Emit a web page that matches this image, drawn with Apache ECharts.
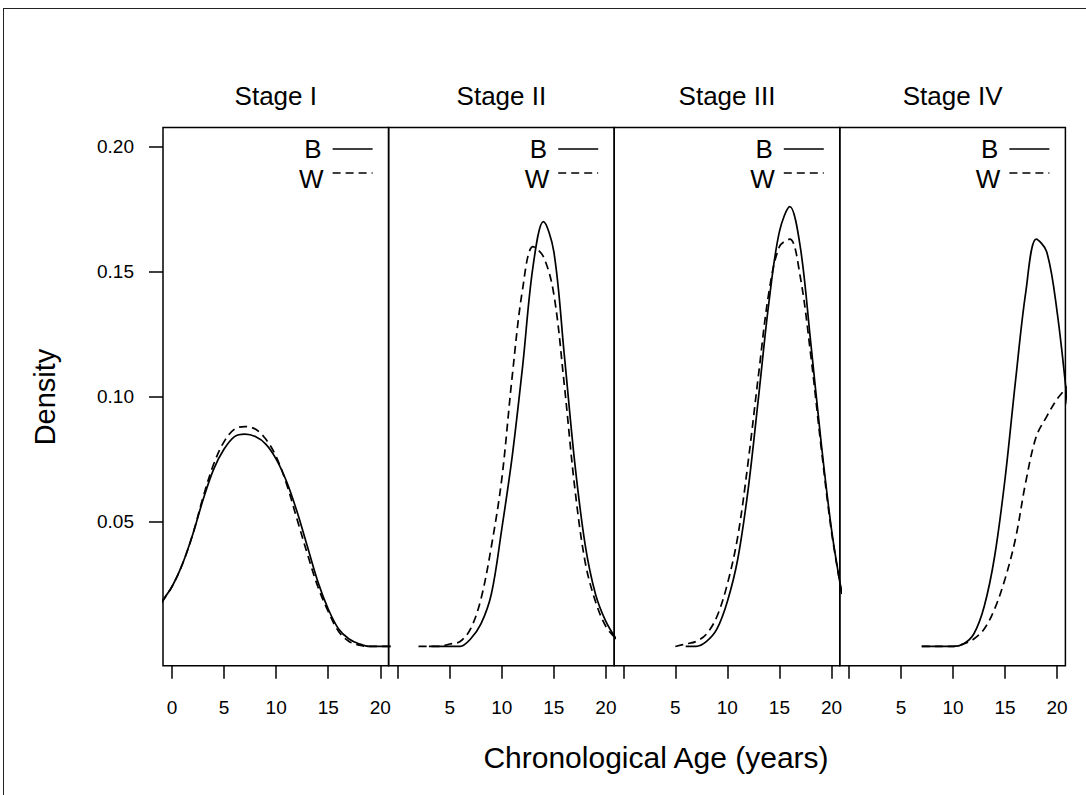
<!DOCTYPE html>
<html>
<head>
<meta charset="utf-8">
<script src="https://cdn.jsdelivr.net/npm/echarts@6/dist/echarts.min.js"></script>
<style>
html,body{margin:0;padding:0;background:#fff;}
#frame{position:absolute;left:3px;top:8px;width:1100px;height:800px;border-top:1.5px solid #222;border-left:1.5px solid #222;}
#chart{position:absolute;left:0;top:0;width:1086px;height:795px;}
</style>
</head>
<body>
<div id="frame"></div>
<div id="chart"></div>
<script>
// ---- data ----
const stageNames = ['Stage I', 'Stage II', 'Stage III', 'Stage IV'];
const groupNames = ['B', 'W'];
const ages = [-1, 0, 1, 2, 3, 4, 5, 6, 7, 8, 9, 10, 11, 12, 13, 14, 15, 16, 17, 18, 19, 20, 21];
const xTickValues = [0, 5, 10, 15, 20];
const xLabelsFirst = [0, 5, 10, 15, 20];
const xLabelsOther = [5, 10, 15, 20];
const yTickValues = [0.05, 0.10, 0.15, 0.20];

const stage1B = [0.018, 0.024, 0.033, 0.045, 0.059, 0.071, 0.079, 0.084, 0.085, 0.084, 0.081, 0.075, 0.066, 0.054, 0.040, 0.026, 0.015, 0.007, 0.003, 0.001, 0, 0, 0];
const stage1W = [0.0175, 0.024, 0.033, 0.045, 0.060, 0.073, 0.082, 0.087, 0.088, 0.087, 0.083, 0.076, 0.065, 0.051, 0.037, 0.024, 0.014, 0.006, 0.002, 0.0005, 0, 0, 0];
const stage2B = [null, null, null, null, 0, 0, 0, 0, 0.003, 0.009, 0.021, 0.047, 0.076, 0.112, 0.152, 0.170, 0.158, 0.117, 0.074, 0.041, 0.021, 0.010, 0.003];
const stage2W = [null, null, null, 0, 0, 0, 0.001, 0.002, 0.007, 0.019, 0.040, 0.067, 0.108, 0.143, 0.160, 0.156, 0.141, 0.105, 0.064, 0.034, 0.018, 0.008, 0.003];
const stage3B = [null, null, null, null, null, null, null, 0, 0, 0.002, 0.007, 0.018, 0.035, 0.063, 0.100, 0.138, 0.166, 0.176, 0.160, 0.122, 0.082, 0.047, 0.021];
const stage3W = [null, null, null, null, null, null, 0, 0.001, 0.002, 0.005, 0.012, 0.025, 0.044, 0.074, 0.109, 0.142, 0.160, 0.163, 0.148, 0.117, 0.080, 0.046, 0.021];
const stage4B = [null, null, null, null, null, null, null, null, 0, 0, 0, 0, 0.001, 0.005, 0.016, 0.036, 0.067, 0.106, 0.142, 0.163, 0.158, 0.134, 0.097];
const stage4W = [null, null, null, null, null, null, null, null, 0, 0, 0, 0, 0.001, 0.003, 0.007, 0.015, 0.027, 0.043, 0.066, 0.084, 0.092, 0.099, 0.104];

const seriesB = [stage1B, stage2B, stage3B, stage4B];
const seriesW = [stage1W, stage2W, stage3W, stage4W];

// ---- layout ----
const FONT = 'Liberation Sans, Arial, sans-serif';
const panelLeft = 163, panelTop = 127.5, panelW = 225.6, panelH = 538.2;
const xMin = -0.87, xMax = 20.8, yMin = -0.0077, yMax = 0.2077;
const dash = [8, 5];

const grids = [], xAxes = [], yAxes = [], series = [], graphics = [];
for (let i = 0; i < 4; i++) {
  const left = panelLeft + i * panelW;
  grids.push({left: left, top: panelTop, width: panelW, height: panelH, show: true,
    borderColor: '#000', borderWidth: 1.5, backgroundColor: 'transparent', containLabel: false});
  xAxes.push({type: 'value', gridIndex: i, min: xMin, max: xMax, position: 'bottom',
    axisLine: {show: false, onZero: false},
    splitLine: {show: false},
    axisTick: {show: true, inside: false, length: 13, customValues: xTickValues,
      lineStyle: {color: '#000', width: 1.5}},
    axisLabel: {show: true, customValues: i === 0 ? xLabelsFirst : xLabelsOther,
      margin: 32, fontSize: 19, color: '#000', fontFamily: FONT}});
  yAxes.push({type: 'value', gridIndex: i, min: yMin, max: yMax, show: i === 0, position: 'left',
    axisLine: {show: false, onZero: false},
    splitLine: {show: false},
    axisTick: {show: true, inside: false, length: 14, customValues: yTickValues,
      lineStyle: {color: '#000', width: 1.5}},
    axisLabel: {show: true, customValues: yTickValues, margin: 29, fontSize: 19,
      color: '#000', fontFamily: FONT, formatter: v => v.toFixed(2)}});
  const mk = (vals, name, type) => ({
    type: 'line', name: name, xAxisIndex: i, yAxisIndex: i,
    data: ages.map((a, k) => [a, vals[k]]).filter(d => d[1] !== null),
    showSymbol: false, symbol: 'none', smooth: 0.35, clip: true, silent: true,
    lineStyle: {color: '#000', width: 1.7, type: type}
  });
  series.push(mk(seriesB[i], groupNames[0], 'solid'));
  series.push(mk(seriesW[i], groupNames[1], dash));

  // strip title
  graphics.push({type: 'text', x: left + panelW / 2, y: 96,
    style: {text: stageNames[i], fontSize: 26, fontFamily: FONT, fill: '#000',
      align: 'center', verticalAlign: 'middle'}});
  // in-panel key
  const right = left + panelW;
  graphics.push({type: 'text', x: right - 67, y: 149,
    style: {text: groupNames[0], fontSize: 26, fontFamily: FONT, fill: '#000',
      align: 'right', verticalAlign: 'middle'}});
  graphics.push({type: 'line', shape: {x1: right - 56, y1: 149, x2: right - 16, y2: 149},
    style: {stroke: '#000', lineWidth: 1.7}});
  graphics.push({type: 'text', x: right - 65, y: 179,
    style: {text: groupNames[1], fontSize: 26, fontFamily: FONT, fill: '#000',
      align: 'right', verticalAlign: 'middle'}});
  graphics.push({type: 'line', shape: {x1: right - 56, y1: 173, x2: right - 16, y2: 173},
    style: {stroke: '#000', lineWidth: 1.7, lineDash: dash}});
}
graphics.push({type: 'text', x: 656, y: 757,
  style: {text: 'Chronological Age (years)', fontSize: 30, fontFamily: FONT, fill: '#000',
    align: 'center', verticalAlign: 'middle'}});
graphics.push({type: 'text', x: 45, y: 397, rotation: Math.PI / 2,
  style: {text: 'Density', fontSize: 29, fontFamily: FONT, fill: '#000',
    align: 'center', verticalAlign: 'middle'}});

const chart = echarts.init(document.getElementById('chart'), null, {renderer: 'svg'});
chart.setOption({
  animation: false,
  backgroundColor: 'transparent',
  grid: grids, xAxis: xAxes, yAxis: yAxes, series: series, graphic: graphics
});
</script>
</body>
</html>
